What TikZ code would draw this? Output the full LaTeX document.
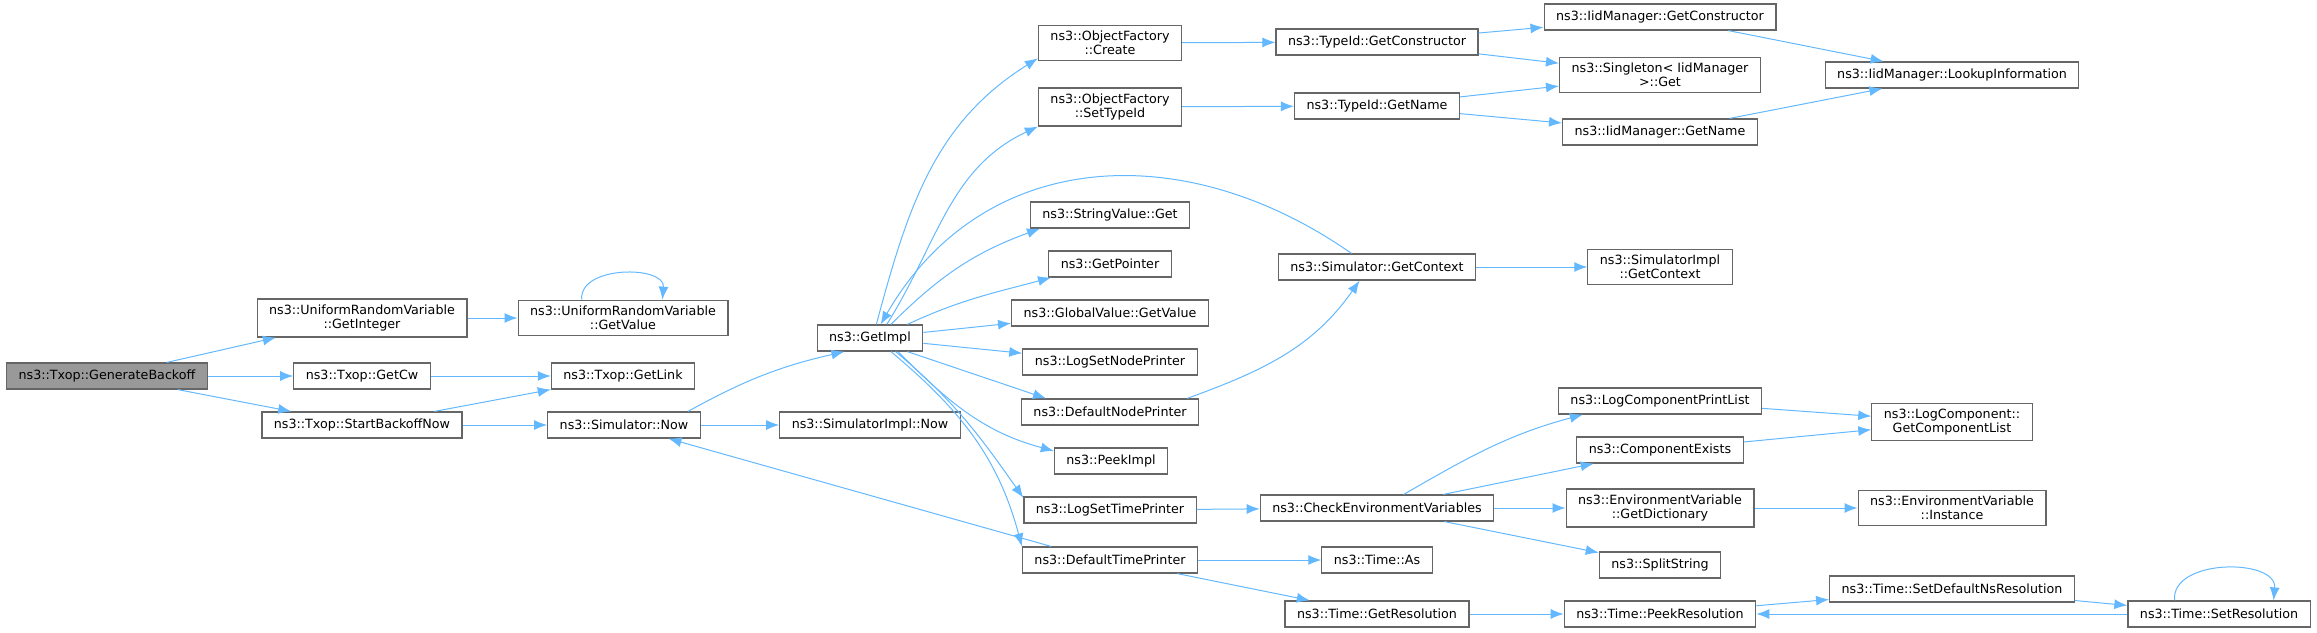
\documentclass[tikz,border=0pt]{standalone}
\usepackage{fontspec}
\setmainfont{DejaVu Sans}
\usetikzlibrary{arrows.meta}
\definecolor{callblue}{HTML}{63B8FF}
\definecolor{boxgray}{HTML}{666666}
\definecolor{rootgray}{HTML}{999999}
\begin{document}
\begin{tikzpicture}[->,>={Latex[length=6.5pt,width=5pt]},x=0.5pt,y=-0.5pt]
        \tikzstyle{func}=[rectangle,draw=boxgray,line width=0.6pt,fill=white,align=center,inner xsep=6pt,inner ysep=3pt,minimum height=13pt,font=\fontsize{6.35}{6.85}\selectfont]
        \tikzstyle{root}=[func,fill=rootgray]
        \tikzstyle{call}=[color=callblue,line width=0.5pt]
        \useasboundingbox (0,0) rectangle (2317,632);
        % first columns
        \node [root] (GB) at (107,376) {ns3::Txop::GenerateBackoff};
        \node [func] (GI) at (362,318) {ns3::UniformRandomVariable\\::GetInteger};
        \node [func] (GCw) at (362,376) {ns3::Txop::GetCw};
        \node [func] (SBN) at (362,425) {ns3::Txop::StartBackoffNow};
        \node [func] (GV) at (623,318) {ns3::UniformRandomVariable\\::GetValue};
        \node [func] (GL) at (623,376) {ns3::Txop::GetLink};
        \node [func] (SN) at (624,425) {ns3::Simulator::Now};
        \node [func] (GImpl) at (870,338) {ns3::GetImpl};
        \node [func] (SIN) at (870,425) {ns3::SimulatorImpl::Now};
        % callees of GetImpl
        \node [func] (OFC) at (1110,43) {ns3::ObjectFactory\\::Create};
        \node [func] (OFS) at (1110,107) {ns3::ObjectFactory\\::SetTypeId};
        \node [func] (SVG) at (1110,215) {ns3::StringValue::Get};
        \node [func] (GP) at (1110,264) {ns3::GetPointer};
        \node [func] (GVV) at (1110,313) {ns3::GlobalValue::GetValue};
        \node [func] (LSN) at (1110,362) {ns3::LogSetNodePrinter};
        \node [func] (DNP) at (1110,412) {ns3::DefaultNodePrinter};
        \node [func] (PI) at (1111,461) {ns3::PeekImpl};
        \node [func] (LST) at (1110,510) {ns3::LogSetTimePrinter};
        \node [func] (DTP) at (1110,560) {ns3::DefaultTimePrinter};
        % next columns
        \node [func] (TGC) at (1377,42) {ns3::TypeId::GetConstructor};
        \node [func] (TGN) at (1377,106) {ns3::TypeId::GetName};
        \node [func] (SGC) at (1377,267) {ns3::Simulator::GetContext};
        \node [func] (CEV) at (1377,508) {ns3::CheckEnvironmentVariables};
        \node [func] (TAs) at (1377,560) {ns3::Time::As};
        \node [func] (TGR) at (1377,614) {ns3::Time::GetResolution};
        \node [func] (IGC) at (1660,17) {ns3::IidManager::GetConstructor};
        \node [func] (SIG) at (1660,75) {ns3::Singleton< IidManager\\>::Get};
        \node [func] (IGN) at (1660,132) {ns3::IidManager::GetName};
        \node [func] (SIGC) at (1660,267) {ns3::SimulatorImpl\\::GetContext};
        \node [func] (LCP) at (1660,401) {ns3::LogComponentPrintList};
        \node [func] (CE) at (1660,450) {ns3::ComponentExists};
        \node [func] (EGD) at (1660,508) {ns3::EnvironmentVariable\\::GetDictionary};
        \node [func] (SS) at (1660,565) {ns3::SplitString};
        \node [func] (TPR) at (1660,614) {ns3::Time::PeekResolution};
        \node [func] (ILI) at (1952,75) {ns3::IidManager::LookupInformation};
        \node [func] (LGL) at (1952,422) {ns3::LogComponent::\\GetComponentList};
        \node [func] (EVI) at (1952,508) {ns3::EnvironmentVariable\\::Instance};
        \node [func] (TSD) at (1952,589) {ns3::Time::SetDefaultNsResolution};
        \node [func] (TSR) at (2219,614) {ns3::Time::SetResolution};
        % calls
        \path[call] (GB) edge (GI) edge (GCw) edge (SBN);
        \path[call] (GI) edge (GV);
        \path[call] (GV.156) edge [out=95,in=85,looseness=1.1] (GV.25);
        \path[call] (GCw) edge (GL);
        \path[call] (SBN) edge (GL) edge (SN);
        \path[call] (SN) edge (SIN);
        \path[call] (SN.12) edge [bend left=8] (GImpl.-152);
        \path[call] (GImpl.65) edge [out=75,in=212] (OFC.192);
        \path[call] (GImpl.39) edge [out=58,in=205] (OFS.south west);
        \path[call] (GImpl.33) edge [out=45,in=200] (SVG.191);
        \path[call] (GImpl.20) edge [out=25,in=195] (GP.193);
        \path[call] (GImpl) edge (GVV) edge (LSN);
        \path[call] (GImpl.-20) edge (DNP.168);
        \path[call] (GImpl.-26) edge [out=-45,in=165] (PI.170);
        \path[call] (GImpl.-28) edge [out=-40,in=125] (LST.172);
        \path[call] (GImpl.-33) edge [out=-40,in=105] (DTP.north west);
        \path[call] (SGC.152) edge [out=145,in=60,looseness=1.1] (GImpl.52);
        \path[call] (SGC) edge (SIGC);
        \path[call] (DNP.10) edge [out=20,in=235] (SGC.218);
        \path[call] (DTP.167) edge (SN.-17);
        \path[call] (DTP) edge (TAs) edge (TGR);
        \path[call] (LST) edge (CEV);
        \path[call] (OFC) edge (TGC);
        \path[call] (OFS) edge (TGN);
        \path[call] (TGC) edge (IGC) edge (SIG);
        \path[call] (TGN) edge (SIG) edge (IGN);
        \path[call] (IGC) edge (ILI);
        \path[call] (IGN) edge (ILI);
        \path[call] (CEV.27) edge [out=30,in=195] (LCP.190);
        \path[call] (CEV) edge (CE) edge (EGD) edge (SS);
        \path[call] (LCP) edge (LGL);
        \path[call] (CE) edge (LGL);
        \path[call] (EGD) edge (EVI);
        \path[call] (TGR) edge (TPR);
        \path[call] (TPR) edge (TSD);
        \path[call] (TSD) edge (TSR);
        \path[call] (TSR) edge (TPR);
        \path[call] (TSR.163) edge [out=95,in=85,looseness=1.1] (TSR.14);
\end{tikzpicture}
\end{document}
